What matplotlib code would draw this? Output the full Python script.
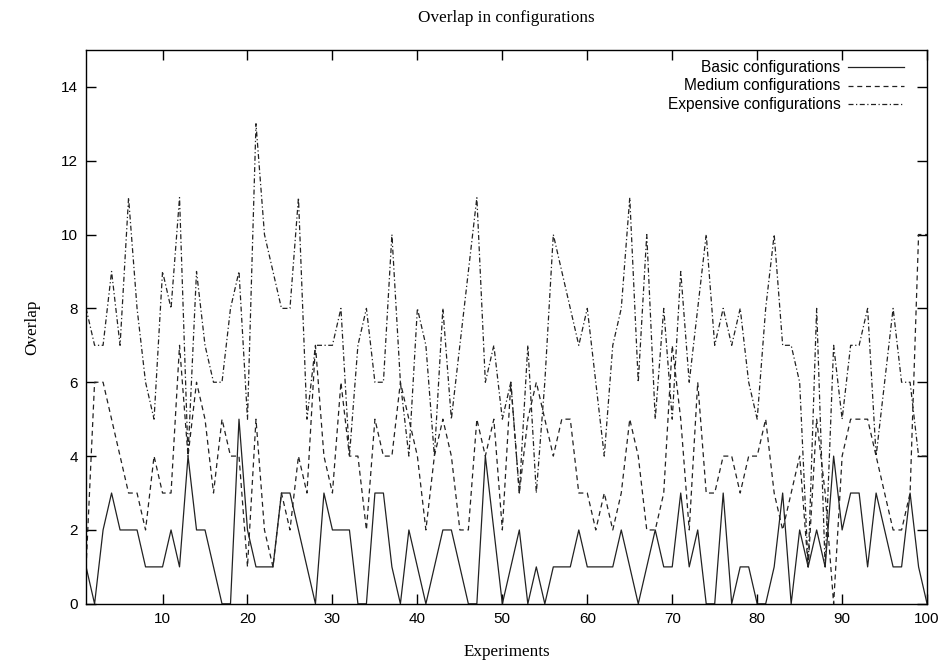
import numpy as np
import matplotlib
matplotlib.use("Agg")
import matplotlib.pyplot as plt

experiments = list(range(1, 101))

basic = [1, 0, 2, 3, 2, 2, 2, 1, 1, 1,
         2, 1, 4, 2, 2, 1, 0, 0, 5, 2,
         1, 1, 1, 3, 3, 2, 1, 0, 3, 2,
         2, 2, 0, 0, 3, 3, 1, 0, 2, 1,
         0, 1, 2, 2, 1, 0, 0, 4, 2, 0,
         1, 2, 0, 1, 0, 1, 1, 1, 2, 1,
         1, 1, 1, 2, 1, 0, 1, 2, 1, 1,
         3, 1, 2, 0, 0, 3, 0, 1, 1, 0,
         0, 1, 3, 0, 2, 1, 2, 1, 4, 2,
         3, 3, 1, 3, 2, 1, 1, 3, 1, 0]

medium = [1, 6, 6, 5, 4, 3, 3, 2, 4, 3,
          3, 7, 4, 6, 5, 3, 5, 4, 4, 1,
          5, 2, 1, 3, 2, 4, 3, 7, 4, 3,
          6, 4, 4, 2, 5, 4, 4, 6, 5, 4,
          2, 4, 5, 4, 2, 2, 5, 4, 5, 2,
          6, 3, 5, 6, 5, 4, 5, 5, 3, 3,
          2, 3, 2, 3, 5, 4, 2, 2, 3, 7,
          5, 2, 6, 3, 3, 4, 4, 3, 4, 4,
          5, 3, 2, 3, 4, 1, 5, 3, 0, 4,
          5, 5, 5, 4, 3, 2, 2, 3, 10, 10]

expensive = [8, 7, 7, 9, 7, 11, 8, 6, 5, 9,
             8, 11, 4, 9, 7, 6, 6, 8, 9, 5,
             13, 10, 9, 8, 8, 11, 5, 7, 7, 7,
             8, 4, 7, 8, 6, 6, 10, 6, 4, 8,
             7, 4, 8, 5, 7, 9, 11, 6, 7, 5,
             6, 3, 7, 3, 6, 10, 9, 8, 7, 8,
             6, 4, 7, 8, 11, 6, 10, 5, 8, 5,
             9, 6, 8, 10, 7, 8, 7, 8, 6, 5,
             8, 10, 7, 7, 6, 1, 8, 1, 7, 5,
             7, 7, 8, 4, 6, 8, 6, 6, 4, 4]

labels = ["Basic configurations", "Medium configurations", "Expensive configurations"]

fig = plt.figure(figsize=(9.46, 6.65), dpi=100)
ax = fig.add_axes([0.091, 0.092, 0.889, 0.833])

line_color = "#222222"
styles = [
    dict(linestyle="-"),
    dict(linestyle=(0, (4, 3))),
    dict(linestyle=(0, (4, 2, 1, 2))),
]
series = [basic, medium, expensive]

for vals, st in zip(series, styles):
    ax.plot(experiments, vals, color=line_color, lw=0.9, **st)

ax.set_xlim(1, 100)
ax.set_ylim(0, 15)
ax.set_xticks(range(10, 101, 10))
ax.set_yticks(range(0, 15, 2))

ax.tick_params(direction="in", length=7, width=1, top=True, right=True,
               labelsize=11, pad=6)
for lab in ax.get_xticklabels() + ax.get_yticklabels():
    lab.set_fontfamily("Liberation Sans")
for sp in ax.spines.values():
    sp.set_linewidth(1.0)

serif = "Liberation Serif"
ax.set_title("Overlap in configurations", fontfamily=serif, fontsize=12.3, pad=20)
ax.set_xlabel("Experiments", fontfamily=serif, fontsize=12.3, labelpad=13)
ax.set_ylabel("Overlap", fontfamily=serif, fontsize=12.3, labelpad=15)

# gnuplot style key: right aligned text, sample line on the right
key_y = [0.969, 0.935, 0.902]
for lab, st, yk in zip(labels, styles, key_y):
    ax.text(0.897, yk, lab, transform=ax.transAxes, ha="right", va="center",
            fontfamily="Liberation Sans", fontsize=11.2)
    ax.plot([0.906, 0.972], [yk, yk], transform=ax.transAxes,
            color=line_color, lw=0.9, **st)

fig.savefig("out.png", dpi=100)
